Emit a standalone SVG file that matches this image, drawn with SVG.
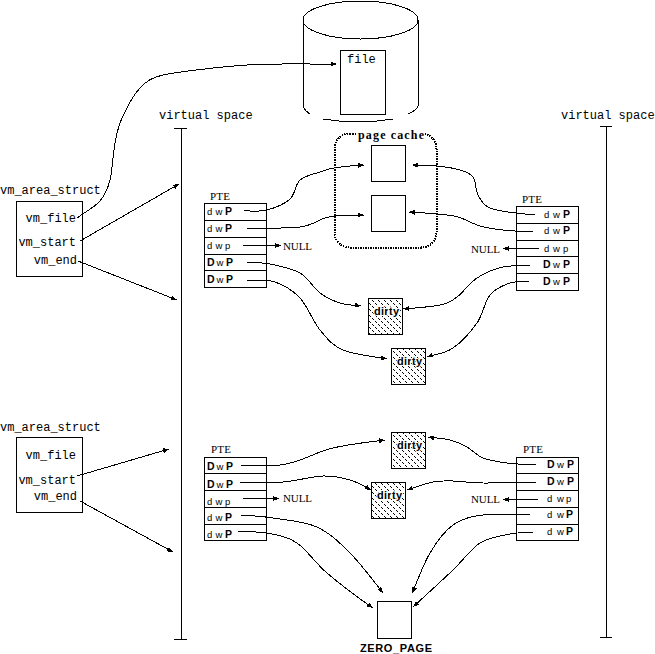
<svg xmlns="http://www.w3.org/2000/svg" width="655" height="654" viewBox="0 0 655 654">
<style>
  svg { shape-rendering: crispEdges; }
  rect, path, line, ellipse { fill: none; stroke: #000; stroke-width: 1; }
  .white { fill: #fff; }
  .mask { fill: #fff; stroke: none; }
  .dirty { fill: url(#hatch); }
  .frame { stroke-width: 2; stroke-dasharray: 1.5 1; }
  .arrow { marker-end: url(#head); }
  text { fill: #000; stroke: none; }
  .mono { font: 12px "Liberation Mono", "Courier New", monospace; }
  .serif { font: 11px "Liberation Serif", "Times New Roman", serif; }
  .title { font: bold 12px "Liberation Serif", "Times New Roman", serif; }
  .heavy { font: bold 11px "Liberation Sans", Arial, sans-serif; }
  .flags { font: 9.5px "Liberation Sans", Arial, sans-serif; }
  .flags .b { font-weight: bold; font-size: 10.5px; }
  .stamp { font: bold 11px "Liberation Sans", Arial, sans-serif; paint-order: stroke; stroke: #fff; stroke-width: 2px; }
</style>
<defs>
  <marker id="head" markerUnits="userSpaceOnUse" markerWidth="8" markerHeight="6" refX="6" refY="3" orient="auto">
    <path d="M0 0.5L6 3L0 5.5Z" style="fill:#000;stroke:none"/>
  </marker>
  <pattern id="hatch" width="6" height="6" patternUnits="userSpaceOnUse">
    <rect x="0" y="0" width="1" height="1" style="fill:#000;stroke:none"/>
    <rect x="1" y="1" width="1" height="1" style="fill:#000;stroke:none"/>
    <rect x="3" y="3" width="1" height="1" style="fill:#000;stroke:none"/>
    <rect x="4" y="4" width="1" height="1" style="fill:#000;stroke:none"/>
  </pattern>
</defs>

<!-- disk holding the mapped file -->
<g id="disk">
  <ellipse cx="360.5" cy="20" rx="57.5" ry="19"/>
  <path d="M303 20V106Q304 110 310 114"/>
  <path d="M418 20V106Q417 110 408 114"/>
  <path d="M323 119Q358 125 393 119"/>
</g>
<g id="file">
  <rect class="white" x="340.5" y="50.5" width="45" height="64"/>
  <text class="mono" x="347" y="63">file</text>
</g>

<!-- virtual address space axes -->
<g id="space-left">
  <text class="mono" x="159" y="119">virtual space</text>
  <line x1="181.5" y1="128" x2="181.5" y2="640"/>
  <line x1="174" y1="128.5" x2="187" y2="128.5"/>
  <line x1="174" y1="639.5" x2="187" y2="639.5"/>
</g>
<g id="space-right">
  <text class="mono" x="561" y="119">virtual space</text>
  <line x1="606.5" y1="126" x2="606.5" y2="638"/>
  <line x1="600" y1="126.5" x2="612" y2="126.5"/>
  <line x1="600" y1="637.5" x2="612" y2="637.5"/>
</g>

<!-- page cache and its two pages -->
<g id="page-cache">
  <rect class="frame" x="334.5" y="133.5" width="102" height="114" rx="15"/>
  <rect class="mask" x="357" y="128" width="68" height="13"/>
  <text class="title" x="358" y="139" textLength="66" lengthAdjust="spacing">page cache</text>
</g>
<g id="cache-page-1"><rect x="371.5" y="145.5" width="34" height="36"/></g>
<g id="cache-page-2"><rect x="371.5" y="195.5" width="34" height="36"/></g>

<!-- dirty private pages -->
<g id="dirty-1">
  <rect class="dirty" x="368.5" y="298.5" width="34" height="36"/>
  <text class="stamp" x="374" y="315" textLength="25">dirty</text>
</g>
<g id="dirty-2">
  <rect class="dirty" x="391.5" y="348.5" width="34" height="36"/>
  <text class="stamp" x="397" y="365" textLength="25">dirty</text>
</g>
<g id="dirty-3">
  <rect class="dirty" x="391.5" y="432.5" width="34" height="36"/>
  <text class="stamp" x="397" y="449" textLength="25">dirty</text>
</g>
<g id="dirty-4">
  <rect class="dirty" x="371.5" y="482.5" width="34" height="36"/>
  <text class="stamp" x="377" y="499" textLength="25">dirty</text>
</g>

<g id="zero-page">
  <rect x="377.5" y="601.5" width="34" height="37"/>
  <text class="heavy" x="360" y="652" textLength="72" lengthAdjust="spacing">ZERO_PAGE</text>
</g>

<!-- vm_area_struct records -->
<g id="vma-top">
  <text class="mono" x="0" y="194">vm_area_struct</text>
  <rect x="16.5" y="201.5" width="66" height="75"/>
  <text class="mono" x="76" y="222" text-anchor="end">vm_file</text>
  <text class="mono" x="76" y="246" text-anchor="end">vm_start</text>
  <text class="mono" x="77" y="264" text-anchor="end">vm_end</text>
</g>
<g id="vma-bottom">
  <text class="mono" x="0" y="431">vm_area_struct</text>
  <rect x="16.5" y="437.5" width="66" height="75"/>
  <text class="mono" x="76" y="459" text-anchor="end">vm_file</text>
  <text class="mono" x="76" y="484" text-anchor="end">vm_start</text>
  <text class="mono" x="77" y="500" text-anchor="end">vm_end</text>
</g>

<!-- page table entry blocks -->
<g id="pte-top-left">
  <text class="serif" x="210" y="200" textLength="20" lengthAdjust="spacing">PTE</text>
  <rect x="204.5" y="203.5" width="62" height="84"/>
  <path d="M204 220.5H267M204 237.5H267M204 254.5H267M204 270.5H267"/>
  <text class="flags" y="215"><tspan x="207">d</tspan><tspan x="215.5">w</tspan><tspan x="225" class="b">P</tspan></text>
  <text class="flags" y="232"><tspan x="207">d</tspan><tspan x="215.5">w</tspan><tspan x="225" class="b">P</tspan></text>
  <text class="flags" y="249"><tspan x="207">d</tspan><tspan x="215.5">w</tspan><tspan x="225">p</tspan></text>
  <text class="flags" y="266"><tspan x="207" class="b">D</tspan><tspan x="216.5">w</tspan><tspan x="226" class="b">P</tspan></text>
  <text class="flags" y="283"><tspan x="207" class="b">D</tspan><tspan x="216.5">w</tspan><tspan x="226" class="b">P</tspan></text>
  <text class="serif" x="283" y="250" textLength="29" lengthAdjust="spacing">NULL</text>
</g>
<g id="pte-top-right">
  <text class="serif" x="522" y="203" textLength="20" lengthAdjust="spacing">PTE</text>
  <rect x="516.5" y="206.5" width="62" height="84"/>
  <path d="M516 223.5H579M516 240.5H579M516 256.5H579M516 273.5H579"/>
  <text class="flags" y="218"><tspan x="544">d</tspan><tspan x="553">w</tspan><tspan x="563" class="b">P</tspan></text>
  <text class="flags" y="234"><tspan x="544">d</tspan><tspan x="553">w</tspan><tspan x="563" class="b">P</tspan></text>
  <text class="flags" y="252"><tspan x="544">d</tspan><tspan x="553">w</tspan><tspan x="563">p</tspan></text>
  <text class="flags" y="268"><tspan x="543" class="b">D</tspan><tspan x="553">w</tspan><tspan x="563" class="b">P</tspan></text>
  <text class="flags" y="285"><tspan x="543" class="b">D</tspan><tspan x="553">w</tspan><tspan x="563" class="b">P</tspan></text>
  <text class="serif" x="471" y="253" textLength="29" lengthAdjust="spacing">NULL</text>
</g>
<g id="pte-bottom-left">
  <text class="serif" x="211" y="453" textLength="20" lengthAdjust="spacing">PTE</text>
  <rect x="204.5" y="457.5" width="62" height="83"/>
  <path d="M204 473.5H267M204 490.5H267M204 507.5H267M204 524.5H267"/>
  <text class="flags" y="470"><tspan x="207" class="b">D</tspan><tspan x="216.5">w</tspan><tspan x="226" class="b">P</tspan></text>
  <text class="flags" y="488"><tspan x="207" class="b">D</tspan><tspan x="216.5">w</tspan><tspan x="226" class="b">P</tspan></text>
  <text class="flags" y="505"><tspan x="207">d</tspan><tspan x="215.5">w</tspan><tspan x="225">p</tspan></text>
  <text class="flags" y="521"><tspan x="207">d</tspan><tspan x="215.5">w</tspan><tspan x="225" class="b">P</tspan></text>
  <text class="flags" y="538"><tspan x="207">d</tspan><tspan x="215.5">w</tspan><tspan x="225" class="b">P</tspan></text>
  <text class="serif" x="283" y="502" textLength="29" lengthAdjust="spacing">NULL</text>
</g>
<g id="pte-bottom-right">
  <text class="serif" x="523" y="453" textLength="20" lengthAdjust="spacing">PTE</text>
  <rect x="516.5" y="457.5" width="62" height="83"/>
  <path d="M516 473.5H579M516 490.5H579M516 507.5H579M516 524.5H579"/>
  <text class="flags" y="468"><tspan x="547" class="b">D</tspan><tspan x="557">w</tspan><tspan x="567" class="b">P</tspan></text>
  <text class="flags" y="485"><tspan x="547" class="b">D</tspan><tspan x="557">w</tspan><tspan x="567" class="b">P</tspan></text>
  <text class="flags" y="502"><tspan x="547">d</tspan><tspan x="557">w</tspan><tspan x="566">p</tspan></text>
  <text class="flags" y="518"><tspan x="547">d</tspan><tspan x="557">w</tspan><tspan x="566" class="b">P</tspan></text>
  <text class="flags" y="535"><tspan x="547">d</tspan><tspan x="557">w</tspan><tspan x="566" class="b">P</tspan></text>
  <text class="serif" x="471" y="503" textLength="29" lengthAdjust="spacing">NULL</text>
</g>

<g id="connectors">
  <!-- vm_file to the file on disk -->
  <path class="arrow" d="M77 218C84.7 212.3 94.5 207.3 100 201S107.5 189.7 110 180S113 153.3 115 143S117.8 127.2 122 118S133.2 95.2 140 88S152 77.5 163 75S218.3 66.8 247 65S306 64.3 337 64"/>
  <!-- vm_start / vm_end into the address space -->
  <path class="arrow" d="M80 241L179 184"/>
  <path class="arrow" d="M78 261L177 300"/>
  <path class="arrow" d="M77 476L169 449"/>
  <path class="arrow" d="M80 501L173 552"/>

  <!-- upper left block -->
  <path class="arrow" d="M244 211C252 210.7 259.3 212 267 210S284.5 204 290 199S295 184.5 300 180S314.3 174 320 172S326.7 169.2 334 168S354 165.5 364 165"/>
  <path class="arrow" d="M247 228C265 228 287 228.7 300 227S318.3 219.9 325 218S333.5 216 340 215.5S356 215 364 215"/>
  <path class="arrow" d="M243 245.5H281"/>
  <path class="arrow" d="M247 262.5C255 263 261.2 262.2 270 264S291.7 268.2 300 273S313.3 288 320 293S333.2 300.8 340 303S354 305 361 306"/>
  <path class="arrow" d="M247 280C256 280.5 266.2 279 275 282S292.5 290 300 298S312.8 321.3 320 330S331.8 345.2 343 350S372 356 387 359"/>

  <!-- upper right block -->
  <path class="arrow" d="M535 215C526 214 515.8 213.3 508 212S493 209.8 488 207S480.5 200 478 195S476 181.2 473 177S466 171.8 460 170S445 166.8 437 166S420 165.2 412 165"/>
  <path class="arrow" d="M533 232C523 231.5 511.8 231 503 230S487.5 228.2 480 226S465.2 219 458 217S445.2 214.8 437 214S418 212.5 409 212"/>
  <path class="arrow" d="M539 248.5H503"/>
  <path class="arrow" d="M530 266C521 266 511.8 265 503 267S484.7 273 477 278S463.2 292.5 457 297S449 303 440 305S415 308 403 309"/>
  <path class="arrow" d="M529 282C523 282 516.5 280.8 510 283S495.5 288.3 490 295S483.2 314.2 477 323S461.3 342.3 453 348S436 354 427 357"/>

  <!-- lower left block -->
  <path class="arrow" d="M241 466C254 466 270.2 466 280 465S291.2 462.8 300 460S318.8 451.3 333 448S368 442 385 440"/>
  <path class="arrow" d="M240 482C254 482 269.2 483 283 482S311.8 476.3 323 476S342 477.7 350 480S364 486 371 490"/>
  <path class="arrow" d="M243 498.5H279"/>
  <path class="arrow" d="M241 515C252 516 260.3 516 273 518S304.2 521.2 317 527S339 542 350 553S372 579 383 593"/>
  <path class="arrow" d="M238 532C248 532 257.2 531.2 267 533S287 536.3 297 543S314.3 562.2 327 573S357 597 373 608"/>

  <!-- lower right block -->
  <path class="arrow" d="M536 465C526 464.5 515.8 464.2 507 463S489.7 460.7 483 458S472.5 450 467 447S456.5 441.7 450 440S435 438 428 437"/>
  <path class="arrow" d="M536 482C518 482 496.8 483.2 483 483S461.3 481.2 453 481S440.7 480.5 433 482S416 487 407 490"/>
  <path class="arrow" d="M538 499.5H503"/>
  <path class="arrow" d="M530 515C515 515 495.8 513.3 483 515S461.8 518.7 453 525S436.8 541.7 430 553S418 580 412 593"/>
  <path class="arrow" d="M533 532C525 533 518.8 532.2 510 534S489.5 537 480 543S464.2 559.3 453 570S426 595 413 607"/>
</g>
</svg>
